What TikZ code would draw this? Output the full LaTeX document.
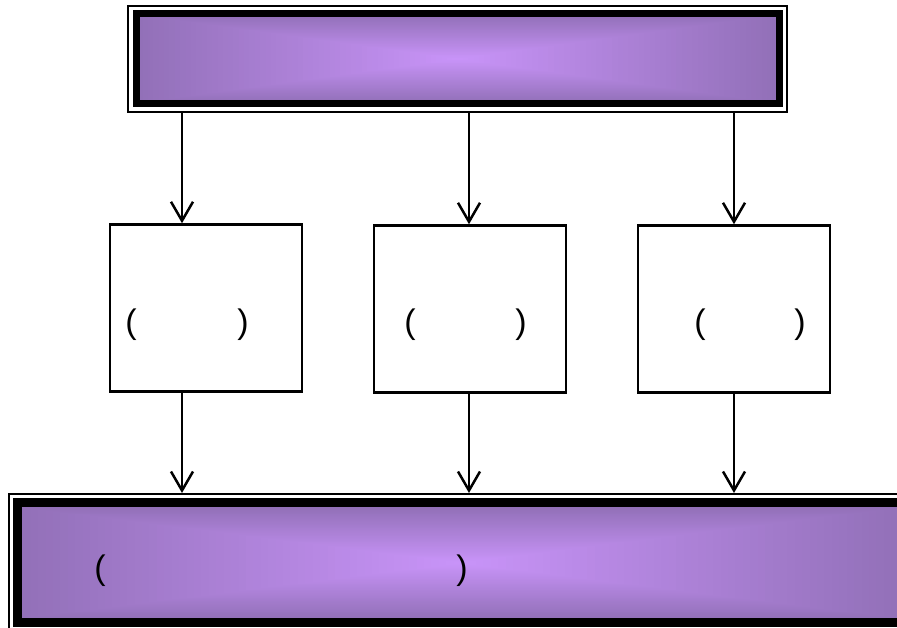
\documentclass[tikz,border=0pt]{standalone}
\usepackage{fontspec}
\setmainfont{Liberation Sans}
\usetikzlibrary{arrows.meta}
\definecolor{pedge}{HTML}{9270B8}
\definecolor{pmid}{HTML}{C994F9}
\tikzset{
  x=1pt,y=-1pt,
  outerframe/.style={draw=black, line width=2pt, fill=white, inner sep=0pt},
  midbox/.style={draw=black, line width=2.5pt, fill=white, inner sep=0pt, minimum width=192pt, minimum height=167pt},
  thickframe/.style={draw=black, line width=7pt},
  arr/.style={draw=black, line width=2.5pt, -{Straight Barb[length=19pt,width=22pt,line width=2.5pt]}},
  paren/.style={font=\fontsize{34}{38}\selectfont, inner sep=0pt}
}
% rectangular (from-centre) gradient: centre x, centre y, half width, half height
\newcommand\myrectgrad[4]{%
  \foreach \i in {0,...,60}{%
    \pgfmathsetmacro\ss{1-\i/60}%
    \pgfmathtruncatemacro\pp{round(\i*100/60)}%
    \fill[pmid!\pp!pedge] ({#1-\ss*#3},{#2-\ss*#4}) rectangle ({#1+\ss*#3},{#2+\ss*#4});
  }}
\begin{document}
\begin{tikzpicture}
\useasboundingbox (0,0) rectangle (897,628);
\clip (0,0) rectangle (897,628);
% top box
\node[outerframe, minimum width=659pt, minimum height=106pt] (top) at (457.5,59) {};
\myrectgrad{457.5}{59}{320}{44}
\draw[thickframe] ([shift={(9,9)}]top.north west) rectangle ([shift={(-9,-9)}]top.south east);
% middle boxes
\node[midbox] (b1) at (206,308) {};
\node[midbox] (b2) at (470,309) {};
\node[midbox] (b3) at (734,309) {};
% bottom box
\node[outerframe, minimum width=904pt, minimum height=137pt] (bot) at (461,562.5) {};
\myrectgrad{461}{563}{445}{56}
\draw[thickframe, line width=8.5pt] ([shift={(9.5,9.5)}]bot.north west) rectangle ([shift={(-9.5,-9.5)}]bot.south east);
% labels
\node[paren] (l1a) at (131,325) {(};
\node[paren] (l1b) at (243,325) {)};
\node[paren] (l2a) at (410,325) {(};
\node[paren] (l2b) at (521,325) {)};
\node[paren] (l3a) at (700,325) {(};
\node[paren] (l3b) at (800,325) {)};
\node[paren] (l4a) at (100,571) {(};
\node[paren] (l4b) at (462,571) {)};
% connectors
\coordinate (t1) at (182,112);
\coordinate (t2) at (469,112);
\coordinate (t3) at (734,112);
\draw[arr] (t1) -- (t1 |- b1.north);
\draw[arr] (t2) -- (t2 |- b2.north);
\draw[arr] (t3) -- (t3 |- b3.north);
\draw[arr] (t1 |- b1.south) -- (t1 |- bot.north);
\draw[arr] (t2 |- b2.south) -- (t2 |- bot.north);
\draw[arr] (t3 |- b3.south) -- (t3 |- bot.north);
\end{tikzpicture}
\end{document}
